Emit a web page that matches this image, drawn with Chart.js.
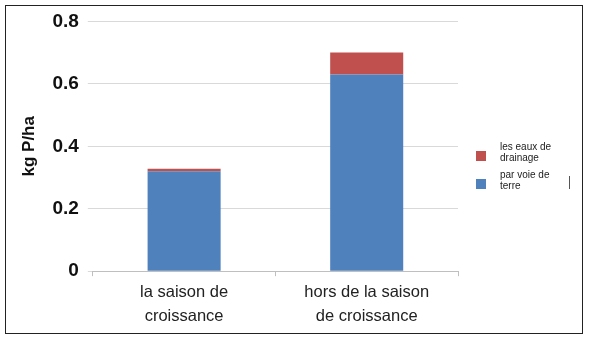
<!DOCTYPE html>
<html>
<head>
<meta charset="utf-8">
<script src="https://cdn.jsdelivr.net/npm/chart.js@4"></script>
<style>
  body { margin: 0; background: #fff; }
  #frame { position: absolute; left: 5px; top: 5px; width: 576px; height: 327px; border: 1px solid #222; }
  #wrap { position: absolute; left: 6px; top: 1px; width: 576px; height: 332px; }
  #legend { position: absolute; left: 470px; top: 142px; font-family: "Liberation Sans", Arial, sans-serif; font-size: 10px; line-height: 10.5px; color: #222; white-space: nowrap; }
  .item { position: relative; height: 28px; }
  .box { position: absolute; left: 6px; top: 9px; width: 10px; height: 10px; }
  .txt { position: absolute; left: 30px; top: 0; }
  #tick { position: absolute; left: 569px; top: 176px; width: 1px; height: 13px; background: #555; }
</style>
</head>
<body>
<div id="frame"></div>
<div id="wrap"><canvas id="myChart"></canvas></div>
<div id="legend"></div>
<div id="tick"></div>
<script>
var categories = [["la saison de", "croissance"], ["hors de la saison", "de croissance"]];
var parVoieDeTerre = [0.32, 0.63];
var eauxDeDrainage = [0.008, 0.07];
var seriesNames = ["les eaux de\ndrainage", "par voie de\nterre"];
var seriesColors = ["#c0504d", "#4f81bd"];

var legend = document.getElementById("legend");
seriesNames.forEach(function (name, i) {
  var div = document.createElement("div");
  div.className = "item";
  div.innerHTML = '<span class="box" style="background:' + seriesColors[i] + '"></span><span class="txt">' +
    name.replace("\n", "<br>") + "</span>";
  legend.appendChild(div);
});

var ctx = document.getElementById("myChart").getContext("2d");
var myChart = new Chart(ctx, {
  type: "bar",
  data: {
    labels: categories,
    datasets: [{
      label: "par voie de terre",
      data: parVoieDeTerre,
      backgroundColor: seriesColors[1],
      barPercentage: 0.8,
      categoryPercentage: 0.5
    }, {
      label: "les eaux de drainage",
      data: eauxDeDrainage,
      backgroundColor: seriesColors[0],
      barPercentage: 0.8,
      categoryPercentage: 0.5
    }]
  },
  options: {
    responsive: true,
    maintainAspectRatio: false,
    animation: false,
    layout: { padding: { top: 0, right: 124, left: 9, bottom: 1 } },
    plugins: { legend: { display: false }, tooltip: { enabled: false } },
    scales: {
      x: {
        stacked: true,
        grid: { display: true, drawOnChartArea: false, color: "#bfbfbf", tickLength: 5, offset: true },
        border: { color: "#bfbfbf" },
        ticks: { color: "#222", font: { family: "Liberation Sans", size: 16.5, lineHeight: 1.45 }, padding: 4 }
      },
      y: {
        stacked: true,
        min: 0,
        max: 0.8,
        ticks: {
          stepSize: 0.2,
          color: "#111",
          padding: 9,
          font: { family: "Liberation Sans", size: 19, weight: "bold" },
          callback: function (v) { return v === 0 ? "0" : v.toFixed(1); }
        },
        grid: { color: "#d9d9d9", tickLength: 5 },
        border: { display: false },
        title: { display: true, text: "kg P/ha", color: "#111", padding: 4, font: { family: "Liberation Sans", size: 17, weight: "bold" } }
      }
    }
  }
});
</script>
</body>
</html>
